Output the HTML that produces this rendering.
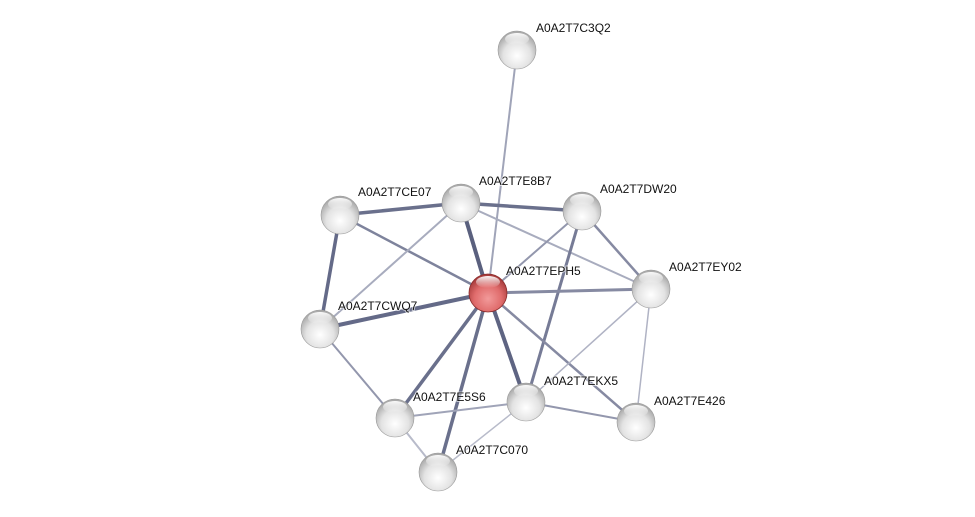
<!DOCTYPE html>
<html><head><meta charset="utf-8"><style>html,body{margin:0;padding:0;background:#fff;}svg{display:block}</style></head>
<body>
<svg width="975" height="517" xmlns="http://www.w3.org/2000/svg">
<defs>
<radialGradient id="g" cx="50%" cy="65%" r="60%">
<stop offset="0" stop-color="#ffffff"/><stop offset="0.6" stop-color="#e3e3e3"/><stop offset="1" stop-color="#aaaaaa"/>
</radialGradient>
<radialGradient id="r" cx="50%" cy="65%" r="60%">
<stop offset="0" stop-color="#f29a9a"/><stop offset="0.6" stop-color="#e06c6c"/><stop offset="1" stop-color="#a83c3c"/>
</radialGradient>
<linearGradient id="h" x1="0" y1="0" x2="0" y2="1">
<stop offset="0" stop-color="#fff" stop-opacity="0.95"/><stop offset="1" stop-color="#fff" stop-opacity="0"/>
</linearGradient>
</defs>
<g stroke-linecap="round">
<line x1="517" y1="50" x2="488" y2="293" stroke="#a0a4b8" stroke-width="2"/>
<line x1="340" y1="215" x2="461" y2="203" stroke="#6a708c" stroke-width="3.5"/>
<line x1="461" y1="203" x2="582" y2="211" stroke="#6a708c" stroke-width="3.5"/>
<line x1="340" y1="215" x2="488" y2="293" stroke="#7e839c" stroke-width="2.5"/>
<line x1="340" y1="215" x2="320" y2="329" stroke="#646a88" stroke-width="3.5"/>
<line x1="461" y1="203" x2="488" y2="293" stroke="#5a607e" stroke-width="4"/>
<line x1="461" y1="203" x2="320" y2="329" stroke="#a8acbe" stroke-width="2"/>
<line x1="461" y1="203" x2="651" y2="289" stroke="#a8acbe" stroke-width="2"/>
<line x1="582" y1="211" x2="488" y2="293" stroke="#9397ad" stroke-width="2"/>
<line x1="582" y1="211" x2="651" y2="289" stroke="#868aa2" stroke-width="2.5"/>
<line x1="582" y1="211" x2="526" y2="402" stroke="#767b96" stroke-width="3"/>
<line x1="488" y1="293" x2="651" y2="289" stroke="#868aa2" stroke-width="3"/>
<line x1="488" y1="293" x2="320" y2="329" stroke="#646a88" stroke-width="4"/>
<line x1="488" y1="293" x2="395" y2="418" stroke="#6a708c" stroke-width="3.5"/>
<line x1="488" y1="293" x2="438" y2="472" stroke="#6a708c" stroke-width="3.5"/>
<line x1="488" y1="293" x2="526" y2="402" stroke="#5e6482" stroke-width="4"/>
<line x1="488" y1="293" x2="636" y2="422" stroke="#868aa2" stroke-width="2.5"/>
<line x1="651" y1="289" x2="526" y2="402" stroke="#b0b3c4" stroke-width="1.5"/>
<line x1="651" y1="289" x2="636" y2="422" stroke="#b0b3c4" stroke-width="1.5"/>
<line x1="320" y1="329" x2="395" y2="418" stroke="#9397ad" stroke-width="2"/>
<line x1="395" y1="418" x2="526" y2="402" stroke="#a0a4b8" stroke-width="2"/>
<line x1="395" y1="418" x2="438" y2="472" stroke="#b8bbca" stroke-width="2"/>
<line x1="526" y1="402" x2="636" y2="422" stroke="#9397ad" stroke-width="2"/>
<line x1="526" y1="402" x2="438" y2="472" stroke="#b8bbca" stroke-width="1.5"/>
</g>
<g>
<circle cx="517" cy="50" r="19" fill="url(#g)" stroke="#999" stroke-width="0.6"/>
<circle cx="340" cy="215" r="19" fill="url(#g)" stroke="#999" stroke-width="0.6"/>
<circle cx="461" cy="203" r="19" fill="url(#g)" stroke="#999" stroke-width="0.6"/>
<circle cx="582" cy="211" r="19" fill="url(#g)" stroke="#999" stroke-width="0.6"/>
<circle cx="488" cy="293" r="19" fill="url(#r)" stroke="#8a2c2c" stroke-width="0.8"/>
<circle cx="651" cy="289" r="19" fill="url(#g)" stroke="#999" stroke-width="0.6"/>
<circle cx="320" cy="329" r="19" fill="url(#g)" stroke="#999" stroke-width="0.6"/>
<circle cx="526" cy="402" r="19" fill="url(#g)" stroke="#999" stroke-width="0.6"/>
<circle cx="395" cy="418" r="19" fill="url(#g)" stroke="#999" stroke-width="0.6"/>
<circle cx="636" cy="422" r="19" fill="url(#g)" stroke="#999" stroke-width="0.6"/>
<circle cx="438" cy="472" r="19" fill="url(#g)" stroke="#999" stroke-width="0.6"/>
</g>
<g fill="url(#h)">
<ellipse cx="517" cy="39" rx="12" ry="6"/><ellipse cx="340" cy="204" rx="12" ry="6"/>
<ellipse cx="461" cy="192" rx="12" ry="6"/><ellipse cx="582" cy="200" rx="12" ry="6"/>
<ellipse cx="488" cy="282" rx="12" ry="6"/><ellipse cx="651" cy="278" rx="12" ry="6"/>
<ellipse cx="320" cy="318" rx="12" ry="6"/><ellipse cx="526" cy="391" rx="12" ry="6"/>
<ellipse cx="395" cy="407" rx="12" ry="6"/><ellipse cx="636" cy="411" rx="12" ry="6"/>
<ellipse cx="438" cy="461" rx="12" ry="6"/>
</g>
<g font-family="Liberation Sans, sans-serif" font-size="12" fill="#111" stroke="#fff" stroke-width="2" paint-order="stroke" stroke-opacity="0.6">
<text x="536" y="32">A0A2T7C3Q2</text>
<text x="358" y="196">A0A2T7CE07</text>
<text x="479" y="185">A0A2T7E8B7</text>
<text x="600" y="193">A0A2T7DW20</text>
<text x="506" y="275">A0A2T7EPH5</text>
<text x="669" y="271">A0A2T7EY02</text>
<text x="338" y="310">A0A2T7CWQ7</text>
<text x="544" y="385">A0A2T7EKX5</text>
<text x="413" y="401">A0A2T7E5S6</text>
<text x="654" y="405">A0A2T7E426</text>
<text x="456" y="454">A0A2T7C070</text>
</g>
</svg>
</body></html>
